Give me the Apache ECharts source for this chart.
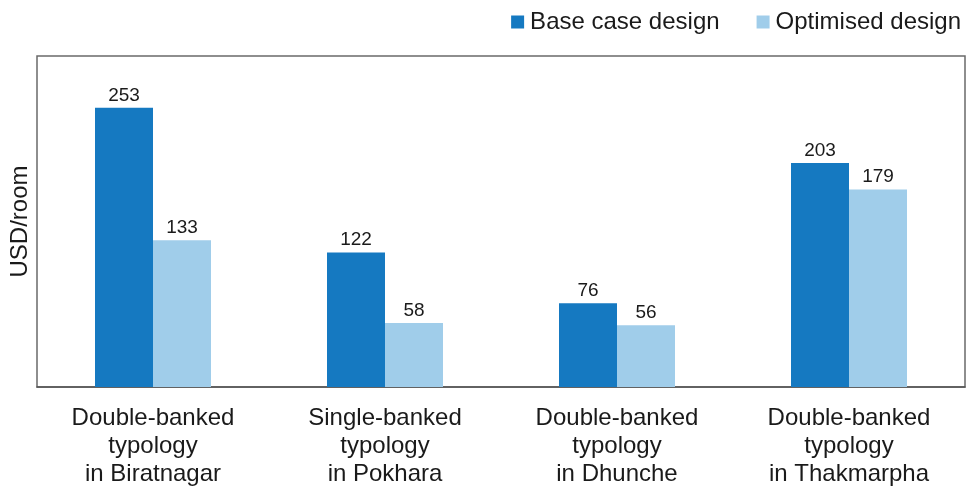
<!DOCTYPE html>
<html><head><meta charset="utf-8">
<script src="https://cdn.jsdelivr.net/npm/echarts@6/dist/echarts.min.js"></script>
<style>html,body{margin:0;padding:0;background:#fff}#c{width:966px;height:488px}</style>
</head><body><div id="c"></div>
<script>
var categories = ['Double-banked\ntypology\nin Biratnagar', 'Single-banked\ntypology\nin Pokhara', 'Double-banked\ntypology\nin Dhunche', 'Double-banked\ntypology\nin Thakmarpha'];
var baseCase = [253, 122, 76, 203];
var optimised = [133, 58, 56, 179];
var seriesNames = ['Base case design', 'Optimised design'];
var chart = echarts.init(document.getElementById('c'));
var font = 'Liberation Sans, Arial, Helvetica, sans-serif';
chart.setOption({
  animation: false,
  textStyle: {fontFamily: font},
  legend: {
    right: 0, top: 5, itemWidth: 13, itemHeight: 13, itemGap: 37,
    icon: 'rect',
    textStyle: {fontSize: 24, color: '#1a1a1a', fontFamily: font, padding: [0,0,0,1]},
    data: seriesNames
  },
  grid: {left: 37, right: 1, top: 56, bottom: 101, show: true, borderColor: '#6a6a6a', borderWidth: 1.5, containLabel: false, outerBoundsMode: 'none'},
  xAxis: {
    type: 'category', data: categories,
    axisLine: {show: true, lineStyle: {color: '#555', width: 1.5}},
    axisTick: {show: false},
    axisLabel: {fontSize: 24, color: '#1a1a1a', lineHeight: 28, margin: 17, fontFamily: font}
  },
  yAxis: {
    type: 'value', min: 0, max: 300,
    name: 'USD/room', nameLocation: 'middle', nameGap: 5, nameRotate: 90,
    nameTextStyle: {fontSize: 24, color: '#1a1a1a', fontFamily: font},
    axisLabel: {show: false}, axisTick: {show: false}, axisLine: {show: false},
    splitLine: {show: false}
  },
  series: [
    {name: seriesNames[0], type: 'bar', data: baseCase, barGap: '0%', barCategoryGap: '50%',
     itemStyle: {color: '#1579c1'},
     label: {show: true, position: 'top', fontSize: 19, color: '#1a1a1a', distance: 3, fontFamily: font}},
    {name: seriesNames[1], type: 'bar', data: optimised,
     itemStyle: {color: '#a0cdea'},
     label: {show: true, position: 'top', fontSize: 19, color: '#1a1a1a', distance: 3, fontFamily: font}}
  ]
});
</script></body></html>
